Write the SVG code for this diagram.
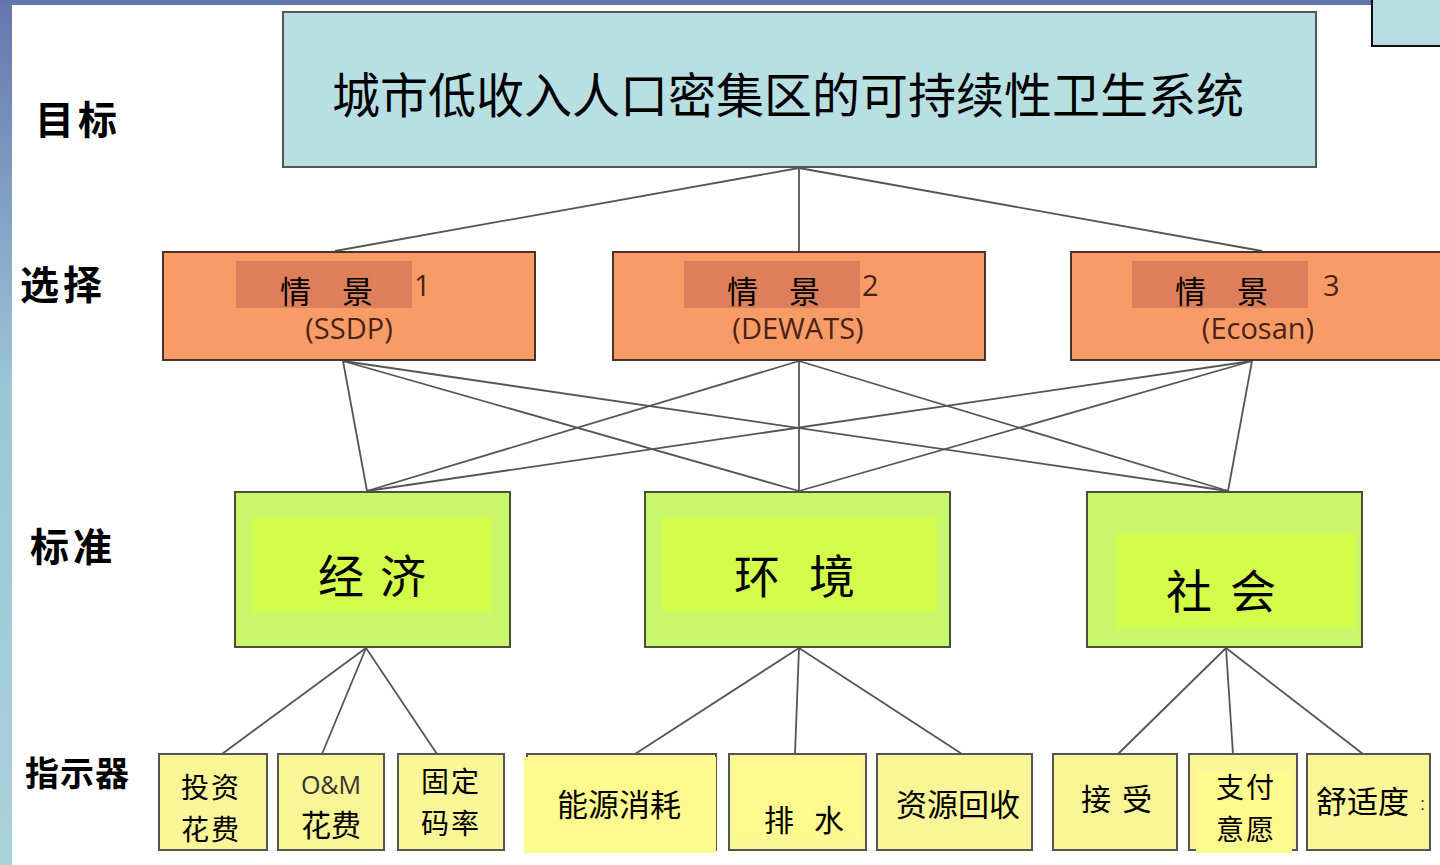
<svg xmlns="http://www.w3.org/2000/svg" width="1440" height="865" viewBox="0 0 1440 865">
<defs>
<linearGradient id="side" x1="0" y1="0" x2="0" y2="1">
<stop offset="0" stop-color="#6576ae"/>
<stop offset="0.45" stop-color="#9cc6d6"/>
<stop offset="1" stop-color="#a9d2dc"/>
</linearGradient>
<style>
.cjk{font-family:"Noto Sans CJK SC","Noto Sans CJK TC",sans-serif;fill:#000}
.lbl{font-size:39px;font-weight:bold;letter-spacing:4px}
.lat{font-family:"Open Sans","Liberation Sans",sans-serif;fill:#4a2218}
.goal{fill:#b8dfe2;stroke:#555;stroke-width:2}
.opt{fill:#f89c67;stroke:#4a3328;stroke-width:2}
.optin{fill:#dd7f5a}
.crit{fill:#c9f66a;stroke:#4b4f3a;stroke-width:2}
.critin{fill:#d4fc4b}
.ind{fill:#faf596;stroke:#555;stroke-width:2}
.indin{fill:#fffa8e}
.two{font-size:28px;letter-spacing:2px}
.conn line{stroke:#555;stroke-width:1.8}
</style>
</defs>
<rect x="0" y="0" width="1440" height="865" fill="#ffffff"/>
<rect x="0" y="0" width="12" height="865" fill="url(#side)"/>
<rect x="0" y="0" width="1371" height="5" fill="#6275ae"/>
<rect x="1372" y="-2" width="70" height="48" fill="#b8dde0" stroke="#111" stroke-width="2"/>

<g id="labels" class="cjk lbl">
<text x="35" y="134">目标</text>
<text x="20" y="299">选择</text>
<text x="30" y="561">标准</text>
<text x="25" y="786" style="font-size:34px;letter-spacing:1px">指示器</text>
</g>

<g id="connectors" class="conn">
<line x1="799" y1="168" x2="335" y2="251"/>
<line x1="799" y1="168" x2="799" y2="252"/>
<line x1="799" y1="168" x2="1262" y2="251"/>
<line x1="343" y1="361" x2="367" y2="491"/>
<line x1="343" y1="361" x2="799" y2="491"/>
<line x1="343" y1="361" x2="1228" y2="491"/>
<line x1="799" y1="361" x2="367" y2="491"/>
<line x1="799" y1="361" x2="799" y2="491"/>
<line x1="799" y1="361" x2="1228" y2="491"/>
<line x1="1252" y1="361" x2="367" y2="491"/>
<line x1="1252" y1="361" x2="799" y2="491"/>
<line x1="1252" y1="361" x2="1228" y2="491"/>
<line x1="366" y1="648" x2="222" y2="754"/>
<line x1="366" y1="648" x2="322" y2="754"/>
<line x1="366" y1="648" x2="437" y2="754"/>
<line x1="799" y1="648" x2="635" y2="754"/>
<line x1="799" y1="648" x2="795" y2="754"/>
<line x1="799" y1="648" x2="962" y2="754"/>
<line x1="1226" y1="648" x2="1118" y2="754"/>
<line x1="1226" y1="648" x2="1233" y2="754"/>
<line x1="1226" y1="648" x2="1363" y2="754"/>
</g>

<g id="goal">
<rect class="goal" x="283" y="12" width="1033" height="155"/>
<text class="cjk" x="788" y="113" text-anchor="middle" font-size="48">城市低收入人口密集区的可持续性卫生系统</text>
</g>

<g id="opt1">
<rect class="opt" x="163" y="252" width="372" height="108"/>
<rect class="optin" x="236" y="261" width="176" height="47"/>
<text class="cjk" x="280" y="303" font-size="31">情　景</text>
<text class="lat" x="414" y="296" font-size="29">1</text>
<text class="lat" x="349" y="339" font-size="29" text-anchor="middle">(SSDP)</text>
</g>
<g id="opt2">
<rect class="opt" x="613" y="252" width="372" height="108"/>
<rect class="optin" x="684" y="261" width="176" height="47"/>
<text class="cjk" x="727" y="303" font-size="31">情　景</text>
<text class="lat" x="862" y="296" font-size="29">2</text>
<text class="lat" x="798" y="339" font-size="29" text-anchor="middle">(DEWATS)</text>
</g>
<g id="opt3">
<rect class="opt" x="1071" y="252" width="380" height="108"/>
<rect class="optin" x="1132" y="261" width="176" height="47"/>
<text class="cjk" x="1175" y="303" font-size="31">情　景</text>
<text class="lat" x="1323" y="296" font-size="29">3</text>
<text class="lat" x="1258" y="339" font-size="29" text-anchor="middle">(Ecosan)</text>
</g>

<g id="crit1">
<rect class="crit" x="235" y="492" width="275" height="155"/>
<rect class="critin" x="252" y="517" width="240" height="95"/>
<text class="cjk" x="318" y="593" font-size="46">经</text>
<text class="cjk" x="380" y="593" font-size="46">济</text>
</g>
<g id="crit2">
<rect class="crit" x="645" y="492" width="305" height="155"/>
<rect class="critin" x="662" y="517" width="275" height="95"/>
<text class="cjk" x="734" y="593" font-size="46">环</text>
<text class="cjk" x="809" y="593" font-size="46">境</text>
</g>
<g id="crit3">
<rect class="crit" x="1087" y="492" width="275" height="155"/>
<rect class="critin" x="1116" y="533" width="240" height="95"/>
<text class="cjk" x="1166" y="608" font-size="46">社</text>
<text class="cjk" x="1230" y="608" font-size="46">会</text>
</g>

<g id="ind1">
<rect class="ind" x="159" y="754" width="108" height="96"/>
<text class="cjk two" x="181" y="798">投资</text>
<text class="cjk two" x="181" y="840">花费</text>
</g>
<g id="ind2">
<rect class="ind" x="278" y="754" width="106" height="96"/>
<text x="331" y="794" font-size="25" text-anchor="middle" style="font-family:'Open Sans','Liberation Sans',sans-serif;fill:#333">O&amp;M</text>
<text class="cjk" x="301" y="836" font-size="30">花费</text>
</g>
<g id="ind3">
<rect class="ind" x="398" y="754" width="106" height="96"/>
<text class="cjk two" x="421" y="792">固定</text>
<text class="cjk two" x="421" y="834">码率</text>
</g>
<g id="ind4">
<rect class="ind" x="527" y="754" width="189" height="96"/>
<rect class="indin" x="524" y="757" width="192" height="96"/>
<text class="cjk" x="557" y="816" font-size="31">能源消耗</text>
</g>
<g id="ind5">
<rect class="ind" x="729" y="754" width="137" height="96"/>
<rect class="indin" x="732" y="757" width="128" height="82"/>
<text class="cjk" x="764" y="831" font-size="30">排</text>
<text class="cjk" x="814" y="831" font-size="30">水</text>
</g>
<g id="ind6">
<rect class="ind" x="877" y="754" width="155" height="96"/>
<text class="cjk" x="896" y="816" font-size="31">资源回收</text>
</g>
<g id="ind7">
<rect class="ind" x="1053" y="754" width="124" height="96"/>
<text class="cjk" x="1081" y="810" font-size="30">接</text>
<text class="cjk" x="1122" y="810" font-size="30">受</text>
</g>
<g id="ind8">
<rect class="ind" x="1189" y="754" width="108" height="96"/>
<rect class="indin" x="1196" y="772" width="96" height="81"/>
<text class="cjk two" x="1216" y="798">支付</text>
<text class="cjk two" x="1216" y="840">意愿</text>
</g>
<g id="ind9">
<rect class="ind" x="1307" y="754" width="123" height="96"/>
<text class="cjk" x="1316" y="813" font-size="31">舒适度</text>
<text x="1420" y="810" font-size="18" style="font-family:'Liberation Sans',sans-serif;fill:#333">:</text>
</g>
</svg>
